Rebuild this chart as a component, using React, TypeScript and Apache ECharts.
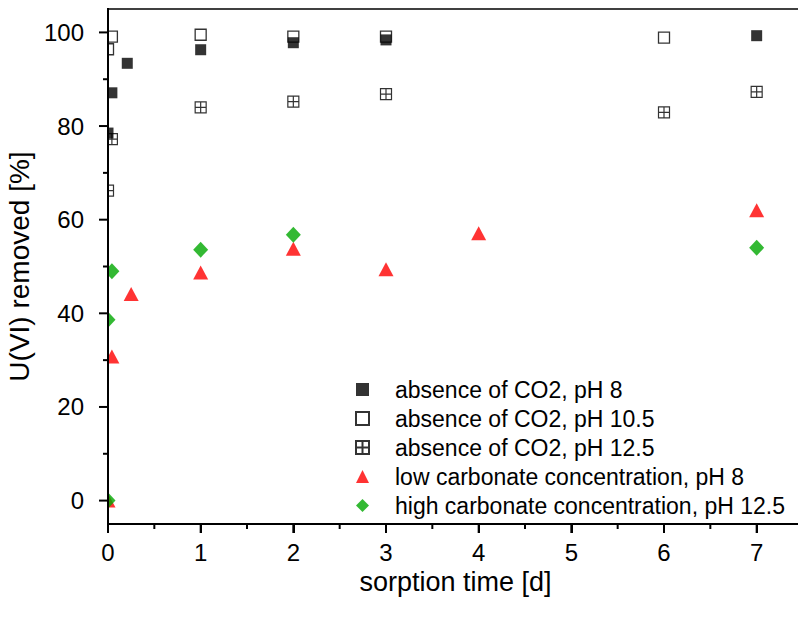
import React, { useEffect, useRef } from "react";
import * as echarts from "echarts";

const X_MIN = 0;
const X_MAX = 7.5;
const Y_MIN = -5;
const Y_MAX = 105;
const xMajor = [0, 1, 2, 3, 4, 5, 6, 7];
const xMinor = [0.5, 1.5, 2.5, 3.5, 4.5, 5.5, 6.5];
const yMajor = [0, 20, 40, 60, 80, 100];
const yMinor = [10, 30, 50, 70, 90];

const seriesNames = [
  "absence of CO2, pH 8",
  "absence of CO2, pH 10.5",
  "absence of CO2, pH 12.5",
  "low carbonate concentration, pH 8",
  "high carbonate concentration, pH 12.5",
];

const filledX = [0, 0.042, 0.208, 1, 2, 3, 7];
const filledY = [78.5, 87.1, 93.4, 96.3, 97.8, 98.4, 99.3];

const openX = [0, 0.042, 1, 2, 3, 6];
const openY = [96.4, 99.1, 99.5, 99.1, 99.1, 98.9];

const crossX = [0, 0.042, 1, 2, 3, 6, 7];
const crossY = [66.2, 77.2, 84.0, 85.2, 86.8, 82.9, 87.3];

const redX = [0, 0.042, 0.25, 1, 2, 3, 4, 7];
const redY = [0, 30.8, 44.1, 48.7, 53.8, 49.4, 57.1, 62.0];

const greenX = [0, 0, 0.042, 1, 2, 7];
const greenY = [0, 38.6, 49.0, 53.6, 56.8, 54.0];

const FONT = "'Liberation Sans', Arial, sans-serif";
const CROSS = "path://M0,0H10V10H0Z M5,0V10 M0,5H10";

const zip = (xs: number[], ys: number[]) => xs.map((x, i) => [x, ys[i]]);

export default function App() {
  const ref = useRef<HTMLDivElement>(null);
  useEffect(() => {
    if (!ref.current) return;
    const chart = echarts.init(ref.current, null, { renderer: "svg" });
    chart.setOption({
      animation: false,
      backgroundColor: "#fff",
      grid: {
        left: 108,
        top: 9,
        width: 695,
        height: 515,
        outerBoundsMode: "none",
        containLabel: false,
      },
      legend: {
        orient: "vertical",
        left: 350,
        top: 373,
        itemWidth: 13,
        itemHeight: 13,
        itemGap: 6,
        data: seriesNames,
        textStyle: {
          fontSize: 23,
          fontFamily: FONT,
          color: "#000",
          padding: [0, 0, 0, 21],
        },
      },
      xAxis: [
        {
          type: "value",
          min: X_MIN,
          max: X_MAX,
          interval: 1,
          z: 10,
          name: "sorption time [d]",
          nameLocation: "middle",
          nameGap: 29,
          nameTextStyle: { fontSize: 27, fontFamily: FONT, color: "#000" },
          axisLine: { show: true, onZero: false, lineStyle: { color: "#000", width: 2 } },
          axisTick: { show: true, length: 9, lineStyle: { color: "#000", width: 2 } },
          minorTick: { show: false },
          axisLabel: { showMaxLabel: false, margin: 16, fontSize: 24, fontFamily: FONT, color: "#000" },
          splitLine: { show: false },
        },
      ],
      yAxis: [
        {
          type: "value",
          min: Y_MIN,
          max: Y_MAX,
          z: 10,
          name: "U(VI) removed [%]",
          nameLocation: "middle",
          nameGap: 45,
          nameTextStyle: { fontSize: 28, fontFamily: FONT, color: "#000" },
          axisLine: { show: true, onZero: false, lineStyle: { color: "#000", width: 2 } },
          axisTick: { show: false },
          axisLabel: { customValues: yMajor, margin: 24, fontSize: 24, fontFamily: FONT, color: "#000" },
          splitLine: { show: false },
        },
      ],
      series: [
        {
          name: seriesNames[0],
          type: "scatter",
          symbol: "rect",
          symbolSize: 11,
          itemStyle: { color: "#000" },
          data: zip(filledX, filledY),
        },
        {
          name: seriesNames[1],
          type: "scatter",
          symbol: "rect",
          symbolSize: 11,
          itemStyle: { color: "rgba(255,255,255,0)", borderColor: "#000", borderWidth: 1.3 },
          data: zip(openX, openY),
        },
        {
          name: seriesNames[2],
          type: "scatter",
          symbol: CROSS,
          symbolSize: 11,
          itemStyle: { color: "rgba(255,255,255,0)", borderColor: "#000", borderWidth: 1.2 },
          data: zip(crossX, crossY),
        },
        {
          name: seriesNames[3],
          type: "scatter",
          symbol: "triangle",
          symbolSize: [15, 14],
          itemStyle: { color: "#ff0000" },
          data: zip(redX, redY),
        },
        {
          name: seriesNames[4],
          type: "scatter",
          symbol: "diamond",
          symbolSize: [15, 16],
          itemStyle: { color: "#00a800" },
          data: zip(greenX, greenY),
        },
      ],
    });

    // Axis frame and ticks, positioned through the chart's own scales.
    const px = (x: number, y: number) =>
      chart.convertToPixel({ xAxisIndex: 0, yAxisIndex: 0 }, [x, y]) as number[];
    const [x0, yB] = px(X_MIN, Y_MIN);
    const [x1, yT] = px(X_MAX, Y_MAX);
    const seg = (ax: number, ay: number, bx: number, by: number, w = 2) => ({
      type: "line",
      z: 100,
      silent: true,
      shape: { x1: ax, y1: ay, x2: bx, y2: by },
      style: { stroke: "#000", lineWidth: w, fill: null },
    });
    const g: any[] = [
      {
        type: "rect",
        z: 5,
        silent: true,
        shape: { x: 0, y: 0, width: x0 - 1, height: yB - 1 },
        style: { fill: "#fff" },
      },
      seg(x0 - 1, yB, x1 + 2, yB),
      seg(x0, yB + 1, x0, yT - 1),
      seg(x0, yT, x1 + 2, yT, 1.5),
    ];
    xMajor.forEach((v) => {
      const p = px(v, Y_MIN);
      g.push(seg(p[0], yB, p[0], yB + 9));
    });
    xMinor.forEach((v) => {
      const p = px(v, Y_MIN);
      g.push(seg(p[0], yB, p[0], yB + 5));
    });
    yMajor.forEach((v) => {
      const p = px(X_MIN, v);
      g.push(seg(x0 - 9, p[1], x0, p[1]));
    });
    yMinor.forEach((v) => {
      const p = px(X_MIN, v);
      g.push(seg(x0 - 5, p[1], x0, p[1]));
    });
    chart.setOption({ graphic: { elements: g } });

    return () => chart.dispose();
  }, []);
  return (
    <div
      ref={ref}
      style={{ position: "fixed", left: 0, top: 0, width: 798, height: 618, background: "#fff" }}
    />
  );
}
